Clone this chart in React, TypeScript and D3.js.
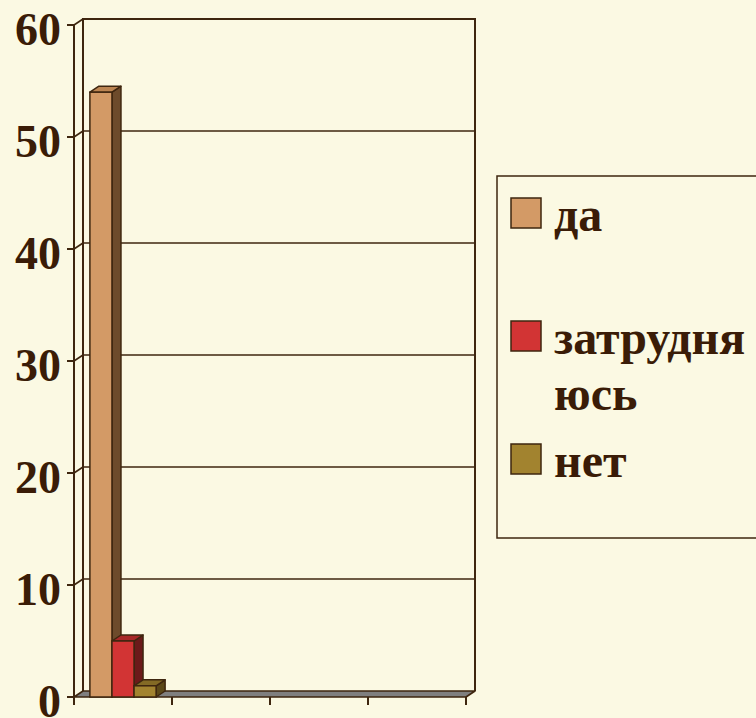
import { useEffect, useRef } from "react";
import * as d3 from "d3";

// chart values
const categories = ["1", "2", "3", "4"];
const seriesNames = ["да", "затрудняюсь", "нет"];
const daValues = [54, null, null, null];
const hardValues = [5, null, null, null];
const netValues = [1, null, null, null];
const yTicks = [0, 10, 20, 30, 40, 50, 60];
const legendLines = [["да"], ["затрудня", "юсь"], ["нет"]];

const faceColors = ["#D39A66", "#D23434", "#A2832F"];
const topColors = ["#BC8552", "#A82828", "#836A25"];
const sideColors = ["#6D4B2B", "#6B1A1A", "#5B4818"];

const ink = "#3E260F";
const textColor = "#3A1C07";
const bg = "#FBF9E3";
const font = "'Liberation Serif', 'Times New Roman', serif";

export default function App() {
    const svgRef = useRef<SVGSVGElement | null>(null);

    useEffect(() => {
        document.body.style.margin = "0";
        const width = 756;
        const height = 718;
        const depthX = 9;
        const depthY = -6;

        const svg = d3.select(svgRef.current);
        svg.selectAll("*").remove();
        svg.attr("width", width).attr("height", height);

        svg.append("rect")
            .attr("width", width)
            .attr("height", height)
            .attr("fill", bg);

        const y = d3.scaleLinear().domain([0, 60]).range([697, 25]);
        const x0 = d3.scaleBand().domain(categories).range([74, 466]);
        const x1 = d3
            .scaleBand()
            .domain(seriesNames)
            .range([0, x0.bandwidth()])
            .paddingInner(0)
            .paddingOuter(0.72);

        const [xLeft, xRight] = x0.range();
        const y0 = y(0);
        const yTop = y(60);

        // back wall
        svg.append("path")
            .attr(
                "d",
                `M${xLeft + depthX},${y0 + depthY} V${yTop + depthY} H${xRight + depthX} V${y0 + depthY}`
            )
            .attr("fill", "none")
            .attr("stroke", ink)
            .attr("stroke-width", 2);

        // gridlines on back wall
        svg.selectAll(".grid")
            .data(yTicks.filter((t) => t > 0 && t < 60))
            .join("line")
            .attr("x1", xLeft + depthX)
            .attr("x2", xRight + depthX)
            .attr("y1", (t) => y(t) + depthY)
            .attr("y2", (t) => y(t) + depthY)
            .attr("stroke", ink)
            .attr("stroke-width", 1.6);

        // side wall diagonals
        svg.selectAll(".diag")
            .data(yTicks.filter((t) => t > 0))
            .join("line")
            .attr("x1", xLeft)
            .attr("x2", xLeft + depthX)
            .attr("y1", (t) => y(t))
            .attr("y2", (t) => y(t) + depthY)
            .attr("stroke", ink)
            .attr("stroke-width", 1.6);

        // floor
        svg.append("path")
            .attr(
                "d",
                `M${xLeft},${y0} H${xRight} L${xRight + depthX},${y0 + depthY} H${xLeft + depthX} Z`
            )
            .attr("fill", "#7F7F7F")
            .attr("stroke", ink)
            .attr("stroke-width", 1.6)
            .attr("stroke-linejoin", "round");

        // front axis
        svg.append("line")
            .attr("x1", xLeft)
            .attr("x2", xLeft)
            .attr("y1", yTop)
            .attr("y2", y0 + 8)
            .attr("stroke", ink)
            .attr("stroke-width", 2);

        svg.selectAll(".ytick")
            .data(yTicks)
            .join("line")
            .attr("x1", xLeft - 7)
            .attr("x2", xLeft)
            .attr("y1", (t) => y(t))
            .attr("y2", (t) => y(t))
            .attr("stroke", ink)
            .attr("stroke-width", 2);

        svg.selectAll(".xtick")
            .data(categories)
            .join("line")
            .attr("x1", (c) => x0(c)! + x0.bandwidth())
            .attr("x2", (c) => x0(c)! + x0.bandwidth())
            .attr("y1", y0)
            .attr("y2", y0 + 8)
            .attr("stroke", ink)
            .attr("stroke-width", 2);

        svg.selectAll(".ylabel")
            .data(yTicks)
            .join("text")
            .attr("x", 61)
            .attr("y", (t) => y(t) + 20)
            .attr("text-anchor", "end")
            .attr("font-family", font)
            .attr("font-weight", "bold")
            .attr("font-size", 46)
            .attr("fill", textColor)
            .text((t) => t);

        // bars
        const allSeries = [daValues, hardValues, netValues];
        const barData: { cat: string; s: number; value: number }[] = [];
        categories.forEach((cat, ci) => {
            allSeries.forEach((vals, s) => {
                const v = vals[ci];
                if (v != null) barData.push({ cat, s, value: v });
            });
        });

        const bars = svg.append("g");
        barData.forEach((d) => {
            const left = x0(d.cat)! + x1(seriesNames[d.s])!;
            const right = left + x1.bandwidth();
            const top = y(d.value);
            const g = bars.append("g");
            g.append("path")
                .attr(
                    "d",
                    `M${right},${y0} L${right + depthX},${y0 + depthY} V${top + depthY} L${right},${top} Z`
                )
                .attr("fill", sideColors[d.s])
                .attr("stroke", ink)
                .attr("stroke-width", 1.5)
                .attr("stroke-linejoin", "round");
            g.append("path")
                .attr(
                    "d",
                    `M${left},${top} L${left + depthX},${top + depthY} H${right + depthX} L${right},${top} Z`
                )
                .attr("fill", topColors[d.s])
                .attr("stroke", ink)
                .attr("stroke-width", 1.5)
                .attr("stroke-linejoin", "round");
            g.append("rect")
                .attr("x", left)
                .attr("y", top)
                .attr("width", right - left)
                .attr("height", y0 - top)
                .attr("fill", faceColors[d.s])
                .attr("stroke", ink)
                .attr("stroke-width", 1.5);
        });

        // legend
        const legend = svg.append("g");
        legend
            .append("rect")
            .attr("x", 497)
            .attr("y", 176)
            .attr("width", 300)
            .attr("height", 362)
            .attr("fill", "none")
            .attr("stroke", ink)
            .attr("stroke-width", 1.5);

        seriesNames.forEach((name, i) => {
            const top = 198 + i * 123;
            legend
                .append("rect")
                .attr("x", 511)
                .attr("y", top)
                .attr("width", 30)
                .attr("height", 30)
                .attr("fill", faceColors[i])
                .attr("stroke", ink)
                .attr("stroke-width", 1.5);
            const text = legend
                .append("text")
                .attr("x", 554)
                .attr("y", top + 33)
                .attr("font-family", font)
                .attr("font-weight", "bold")
                .attr("font-size", 48)
                .attr("fill", textColor);
            legendLines[i].forEach((line, li) => {
                text.append("tspan")
                    .attr("x", 554)
                    .attr("dy", li === 0 ? 0 : 56)
                    .text(line);
            });
        });
    }, []);

    return <svg ref={svgRef} style={{ display: "block" }} />;
}
